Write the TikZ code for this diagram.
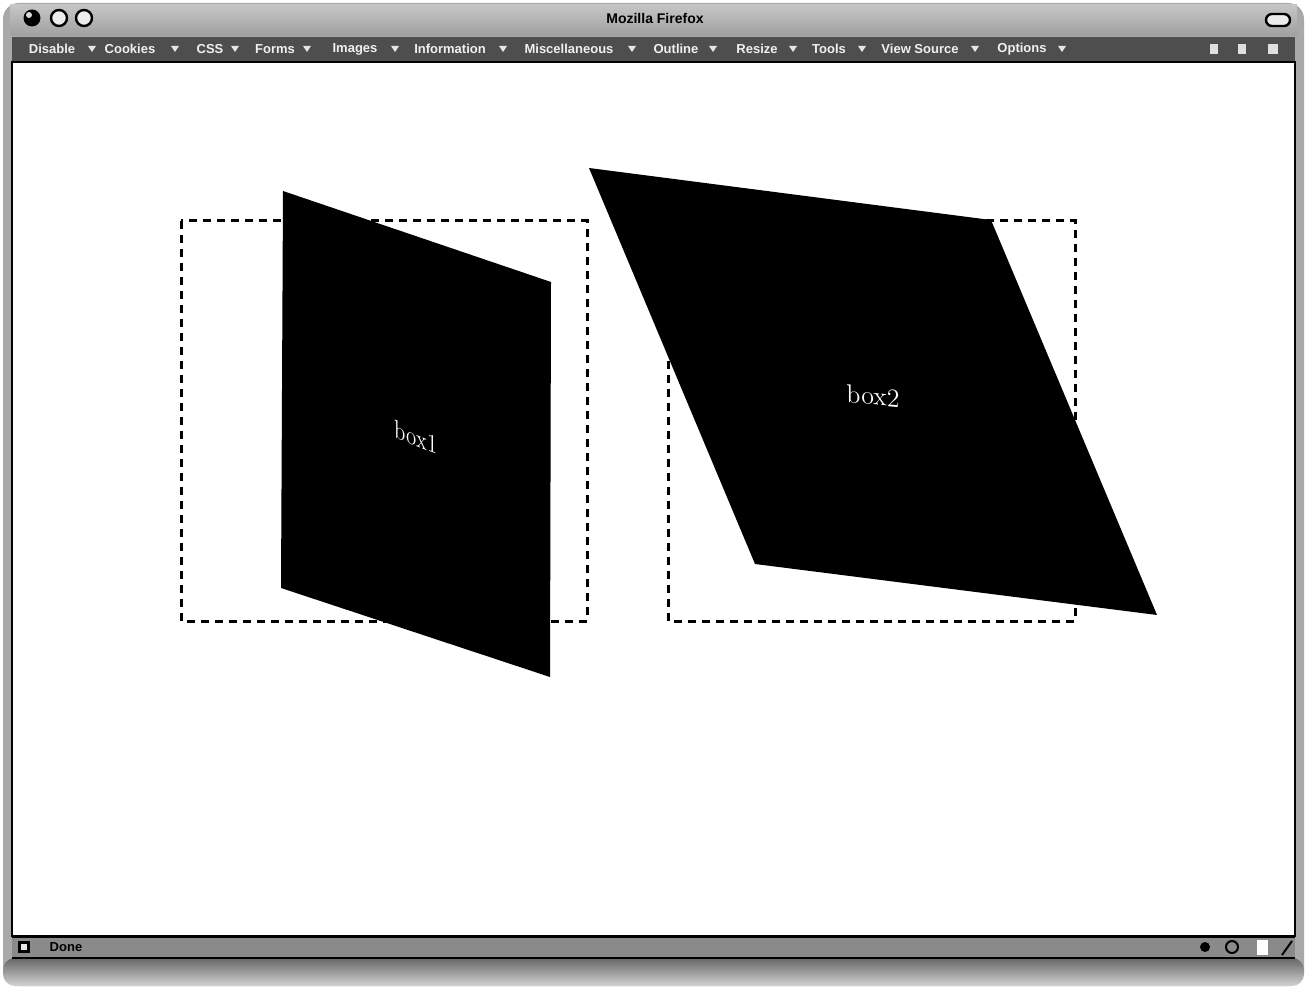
\documentclass[tikz,border=0pt]{standalone}
\usepackage{fontspec}
\newfontfamily\uifont{Liberation Sans}
\definecolor{chrome}{HTML}{A9A9A9}
\definecolor{toolbar}{HTML}{4E4E4E}
\definecolor{statusbar}{HTML}{8A8A8A}
\tikzset{
  menuitem/.style={text=white!88!gray, font=\uifont\bfseries\fontsize{6.5}{7}\selectfont, inner sep=0pt},
  menuarrow/.style={fill=white!80!gray},
  guide/.style={draw=black, line width=1.5pt, dash pattern=on 4pt off 3pt},
  plane/.style={fill=black},
  planelabel/.style={text=white, font=\fontsize{13}{15}\selectfont, inner sep=0pt},
  lightbtn/.style={draw=black, line width=1.2pt, fill=white!85!gray},
}
\begin{document}
\begin{tikzpicture}[x=0.5pt,y=-0.5pt]
\useasboundingbox (0,0) rectangle (1307,989);
\fill[white] (0,0) rectangle (1307,989);
% window frame
\fill[chrome, rounded corners=8pt] (3,3) rectangle (1304,986);
\shade[top color=gray!80!black, bottom color=gray!35, rounded corners=6pt] (3,958) rectangle (1304,986);
% title bar
\shade[top color=gray!45, bottom color=gray!75] (10,5) rectangle (1297,36);
\node[font=\uifont\bfseries\fontsize{7}{8}\selectfont, inner sep=0pt] (title) at (655,19) {Mozilla Firefox};
\node[circle, fill=black, minimum size=8.5pt, inner sep=0pt] (btnclose) at (32,18) {};
\fill[white!70!gray] (29,15) circle (3);
\node[lightbtn, circle, minimum size=8pt, inner sep=0pt] (btnmin) at (59,18) {};
\node[lightbtn, circle, minimum size=8pt, inner sep=0pt] (btnmax) at (84,18) {};
\node[draw=black, line width=1.2pt, fill=white!85!gray, rounded corners=3pt, minimum width=12pt, minimum height=6pt, inner sep=0pt] (pill) at (1278,20) {};
% toolbar
\fill[toolbar] (12,37) rectangle (1295,62);
\foreach \name/\cx/\ax [count=\i] in {Disable/52/92, Cookies/130/175, CSS/210/235, Forms/275/307, Images/355/395, Information/450/503, Miscellaneous/569/632, Outline/676/713, Resize/757/793, Tools/829/862, View Source/920/975, Options/1022/1062}{
  \node[menuitem] (menu\i) at (\cx,49) {\name};
  \fill[menuarrow] (\ax-4,46) -- (\ax+4,46) -- (\ax,52) -- cycle;
}
\fill[white!75!gray] (1210,44) rectangle (1218,54);
\fill[white!75!gray] (1238,44) rectangle (1246,54);
\fill[white!75!gray] (1268,44) rectangle (1278,54);
% content area
\fill[white] (12,62) rectangle (1295,936);
\draw[black, line width=0.8pt] (12,62) rectangle (1295,936);
% status bar
\fill[statusbar] (12,937) rectangle (1295,958);
\draw[black, line width=1pt] (12,937) -- (1295,937);
\draw[black, line width=1.2pt] (12,958) -- (1295,958);
\fill[black] (18,941) -- (30,941) -- (30,953) -- (18,953) -- cycle;
\fill[white!80!gray] (21,944) -- (27,944) -- (27,950) -- (21,950) -- cycle;
\node[font=\uifont\bfseries\fontsize{6.5}{7}\selectfont, inner sep=0pt] (status) at (66,947) {Done};
\fill[black] (1205,947) circle (5);
\draw[black, line width=1pt] (1232,947) circle (6);
\fill[white] (1257,940) rectangle (1268,955);
\draw[black, line width=1pt] (1282,955) -- (1292,941);
% dashed guide boxes
\draw[guide] (181,221) rectangle (587,621);
\draw[guide] (668,221) rectangle (1075,621);
% transformed planes
\fill[plane] (283,191) -- (551,282) -- (550,677) -- (281,588) -- cycle;
\fill[plane] (589,168) -- (991,220) -- (1157,615) -- (755,564) -- cycle;
\node[planelabel, xscale=0.8, yslant=-0.32] (box1) at (416,437) {box1};
\node[planelabel, yslant=-0.1] (box2) at (873,396) {box2};
\end{tikzpicture}
\end{document}
